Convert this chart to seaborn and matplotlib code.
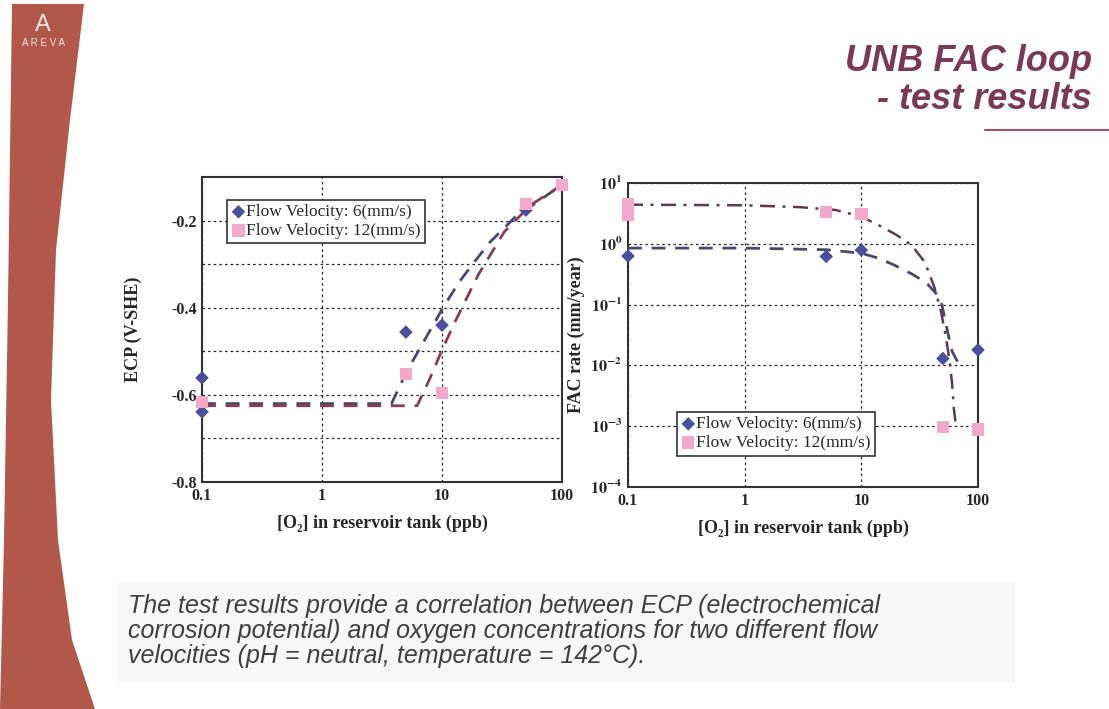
import numpy as np
import pandas as pd
import matplotlib
matplotlib.use("Agg")
import matplotlib.pyplot as plt
import seaborn as sns
from matplotlib.patches import Polygon, Rectangle
from matplotlib.lines import Line2D

# ---------------- data ----------------
o2_ticks = [0.1, 1, 10, 100]
o2_tick_labels = ["0.1", "1", "10", "100"]
ecp_ticks = [-0.8, -0.6, -0.4, -0.2]
ecp_tick_labels = ["-0.8", "-0.6", "-0.4", "-0.2"]
ecp_minor = [-0.7, -0.5, -0.3]
fac_ticks = [1e-4, 1e-3, 1e-2, 1e-1, 1e0, 1e1]
fac_tick_labels = [r"$\mathbf{10^{-4}}$", r"$\mathbf{10^{-3}}$", r"$\mathbf{10^{-2}}$",
                   r"$\mathbf{10^{-1}}$", r"$\mathbf{10^{0}}$", r"$\mathbf{10^{1}}$"]

series_labels = ["Flow Velocity: 6(mm/s)", "Flow Velocity: 12(mm/s)"]

# ECP measurements
ecp_x_6 = [0.1, 0.1, 5, 10, 50]
ecp_y_6 = [-0.561, -0.639, -0.456, -0.44, -0.176]
ecp_x_12 = [0.1, 5, 10, 50, 100]
ecp_y_12 = [-0.616, -0.552, -0.596, -0.162, -0.118]
# ECP fitted trends
ecp_fit_x_6 = [0.1, 1, 3.8, 5, 6.8, 10.5, 14, 18, 25, 40, 60, 100]
ecp_fit_y_6 = [-0.62, -0.62, -0.62, -0.55, -0.485, -0.394, -0.34, -0.30, -0.25, -0.194, -0.16, -0.118]
ecp_fit_x_12 = [0.1, 1, 6.2, 8, 10, 12.8, 20, 33, 55, 100]
ecp_fit_y_12 = [-0.625, -0.625, -0.625, -0.56, -0.497, -0.433, -0.325, -0.226, -0.164, -0.118]

# FAC rate measurements
fac_x_6 = [0.1, 5, 10, 50, 100]
fac_y_6 = [0.63, 0.62, 0.79, 0.013, 0.018]
fac_x_12 = [0.1, 0.1, 5, 10, 50, 100]
fac_y_12 = [4.5, 3.0, 3.3, 3.1, 0.00097, 0.00088]
# FAC fitted trends
fac_fit_x_6 = [0.1, 1, 5, 10, 14, 19, 27, 36, 44, 49, 55, 60, 66, 72]
fac_fit_y_6 = [0.85, 0.85, 0.8, 0.7, 0.58, 0.45, 0.32, 0.23, 0.15, 0.1, 0.035, 0.017, 0.012, 0.01]
fac_fit_x_12 = [0.1, 1, 3, 6, 10, 15, 20, 27, 35, 42, 48, 53, 57, 60, 62, 64]
fac_fit_y_12 = [4.4, 4.3, 4.0, 3.6, 2.8, 1.9, 1.4, 0.95, 0.5, 0.2, 0.08, 0.03, 0.012, 0.005, 0.002, 0.0012]

caption_lines = [
    "The test results provide a correlation between ECP (electrochemical",
    "corrosion potential) and oxygen concentrations for two different flow",
    "velocities (pH = neutral, temperature = 142°C).",
]

# ---------------- style ----------------
sns.set_style("white")
plt.rcParams["font.family"] = ["Liberation Serif", "DejaVu Serif"]
plt.rcParams["mathtext.fontset"] = "stix"

W, H = 1109, 709
fig = plt.figure(figsize=(W / 100, H / 100), dpi=100)
fig.patch.set_facecolor("white")

def fx(x):
    return x / W

def fy(y):
    return 1 - y / H

BLUE = "#4b4f9c"
PINK = "#f2a9cb"
BLUE_LINE = "#45496e"
RED_LINE = "#8c3b55"
GRID = dict(color="#222222", linestyle=(0, (2, 2.5)), linewidth=0.9)
SERIF = ["Liberation Serif", "DejaVu Serif"]
SANS = ["Liberation Sans", "DejaVu Sans"]

# ---------------- decorative slide elements ----------------
strip = [(12, 4), (84, 4), (70, 120), (56, 250), (51, 400), (58, 540), (72, 640), (95, 709),
         (0, 709), (4, 540), (8, 300), (12, 4)]
fig.patches.append(Polygon([(fx(a), fy(b)) for a, b in strip], closed=True,
                           transform=fig.transFigure, facecolor="#b1584b", edgecolor="none", zorder=0))
fig.text(fx(43), fy(25), "A", color="#f4e6e4", fontsize=17, ha="center", va="center", family=SANS)
fig.text(fx(43), fy(43), "A R E V A", color="#f4e6e4", fontsize=7, ha="center", va="center", family=SANS)

fig.text(fx(1092), fy(71), "UNB FAC loop", color="#7a3a57", fontsize=26, fontweight="bold",
         style="italic", ha="right", va="baseline", family=SANS)
fig.text(fx(1092), fy(109), "- test results", color="#7a3a57", fontsize=26, fontweight="bold",
         style="italic", ha="right", va="baseline", family=SANS)
fig.add_artist(Line2D([fx(985), fx(1109)], [fy(130), fy(130)], transform=fig.transFigure,
                      color="#a8505e", linewidth=1.5))

fig.patches.append(Rectangle((fx(118), fy(683)), fx(1015) - fx(118), fy(583) - fy(683),
                             transform=fig.transFigure, facecolor="#f7f7f7", edgecolor="none", zorder=0))
for i, line in enumerate(caption_lines):
    fig.text(fx(128), fy(606 + 25 * i), line, color="#3f3f3f", fontsize=18, style="italic",
             ha="left", va="center", family=SANS)

# ---------------- axes ----------------
axL = fig.add_axes([fx(202), fy(482), fx(562) - fx(202), fy(177) - fy(482)])
axR = fig.add_axes([fx(628), fy(487), fx(978) - fx(628), fy(183) - fy(487)])

# left chart: ECP
sns.lineplot(x=ecp_fit_x_6, y=ecp_fit_y_6, ax=axL, color=BLUE_LINE, linewidth=2,
             linestyle=(0, (5, 3.5)), sort=False, estimator=None, zorder=3)
sns.lineplot(x=ecp_fit_x_12, y=ecp_fit_y_12, ax=axL, color=RED_LINE, linewidth=2,
             linestyle=(0, (5, 3.5)), sort=False, estimator=None, zorder=3)
sns.scatterplot(x=ecp_x_6, y=ecp_y_6, ax=axL, marker="D", s=48, color=BLUE, edgecolor="none",
                label=series_labels[0], clip_on=False, zorder=5)
sns.scatterplot(x=ecp_x_12, y=ecp_y_12, ax=axL, marker="s", s=80, color=PINK, edgecolor="none",
                label=series_labels[1], clip_on=False, zorder=5)

axL.set_xscale("log")
axL.set_xlim(0.1, 100)
axL.set_ylim(-0.8, -0.1)
axL.set_xticks(o2_ticks)
axL.set_xticklabels(o2_tick_labels)
axL.minorticks_off()
axL.set_yticks(ecp_ticks)
axL.set_yticklabels(ecp_tick_labels)
axL.set_yticks(ecp_minor, minor=True)
axL.tick_params(axis="y", which="minor", length=0)
axL.grid(True, which="both", axis="y", **GRID)
axL.grid(True, which="major", axis="x", **GRID)
axL.set_xlabel("[O₂] in reservoir tank (ppb)", fontsize=13, fontweight="bold", family=SERIF, va="top")
axL.set_ylabel("ECP (V-SHE)", fontsize=13, fontweight="bold", family=SERIF)
axL.xaxis.set_label_coords(0.5, -0.108)
axL.yaxis.set_label_coords(-0.167, 0.5)

# right chart: FAC rate
sns.lineplot(x=fac_fit_x_6, y=fac_fit_y_6, ax=axR, color=BLUE_LINE, linewidth=2,
             linestyle=(0, (5, 3.5)), sort=False, estimator=None, zorder=3)
sns.lineplot(x=fac_fit_x_12, y=fac_fit_y_12, ax=axR, color="#5d3a52", linewidth=1.8,
             linestyle=(0, (6, 3, 1.2, 3)), sort=False, estimator=None, zorder=3)
sns.scatterplot(x=fac_x_6, y=fac_y_6, ax=axR, marker="D", s=48, color=BLUE, edgecolor="none",
                label=series_labels[0], clip_on=False, zorder=5)
sns.scatterplot(x=fac_x_12, y=fac_y_12, ax=axR, marker="s", s=80, color=PINK, edgecolor="none",
                label=series_labels[1], clip_on=False, zorder=5)

axR.set_xscale("log")
axR.set_yscale("log")
axR.set_xlim(0.1, 100)
axR.set_ylim(1e-4, 1e1)
axR.set_xticks(o2_ticks)
axR.set_xticklabels(o2_tick_labels)
axR.set_yticks(fac_ticks)
axR.set_yticklabels(fac_tick_labels)
axR.minorticks_off()
axR.grid(True, which="major", **GRID)
axR.set_xlabel("[O₂] in reservoir tank (ppb)", fontsize=13, fontweight="bold", family=SERIF, va="top")
axR.set_ylabel("FAC rate (mm/year)", fontsize=13, fontweight="bold", family=SERIF)
axR.xaxis.set_label_coords(0.5, -0.108)
axR.yaxis.set_label_coords(-0.123, 0.5)

legend_kw = dict(borderaxespad=0, frameon=True, fancybox=False, fontsize=12.5,
                 handletextpad=0.05, handlelength=0.8, borderpad=0.25, labelspacing=0.15,
                 framealpha=1)
legL = axL.legend(loc="upper left", bbox_to_anchor=(0.07, 0.925), **legend_kw)
legR = axR.legend(loc="upper left", bbox_to_anchor=(0.14, 0.247), **legend_kw)
for leg in (legL, legR):
    leg.get_frame().set_edgecolor("#333333")
    leg.get_frame().set_linewidth(1.2)

for ax in (axL, axR):
    ax.set_facecolor("white")
    for sp in ax.spines.values():
        sp.set_visible(True)
        sp.set_color("#333333")
        sp.set_linewidth(1.5)
    ax.tick_params(axis="both", which="major", direction="in", length=3, width=0.8,
                   labelsize=11.5, pad=4)
    for lab in ax.get_xticklabels() + ax.get_yticklabels():
        lab.set_fontweight("bold")
        lab.set_family(SERIF)
    ax.set_axisbelow(True)

fig.savefig("out.png", dpi=100)
